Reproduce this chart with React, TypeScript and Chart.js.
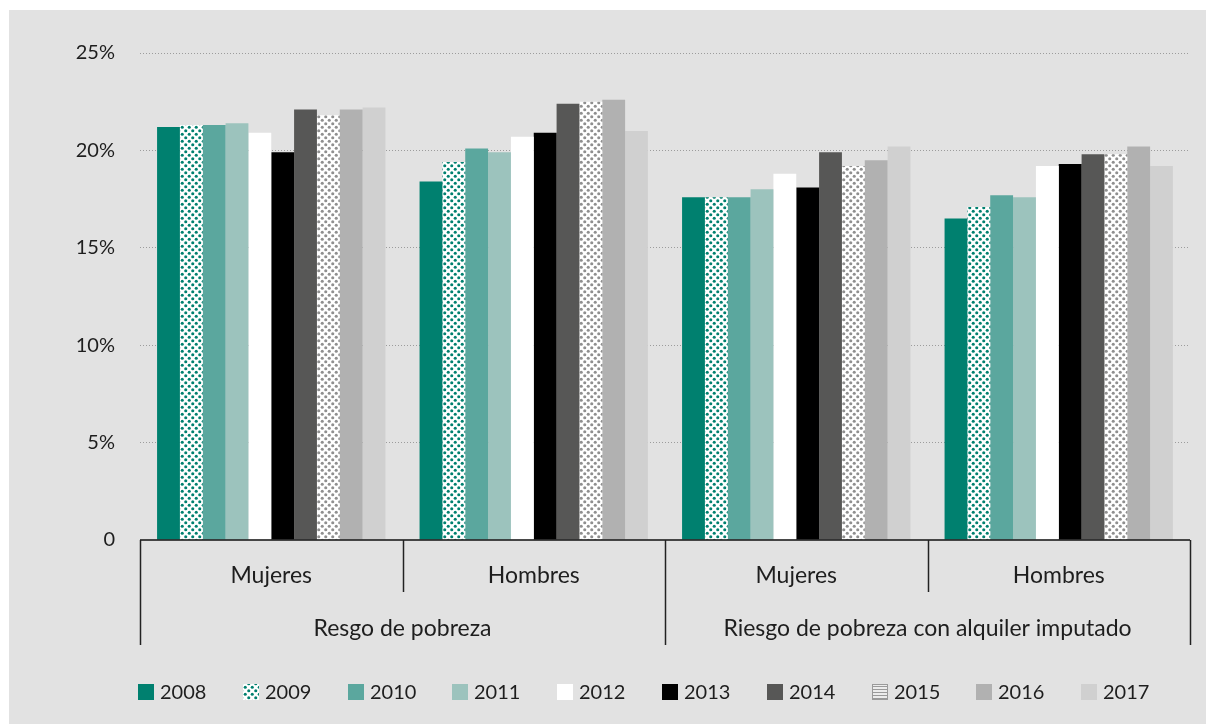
import React, { useEffect, useRef } from 'react';
import { Chart, registerables } from 'chart.js';

Chart.register(...registerables);

const categories = ['Mujeres', 'Hombres', 'Mujeres', 'Hombres'];
const groups = ['Resgo de pobreza', 'Riesgo de pobreza con alquiler imputado'];
const years = ['2008', '2009', '2010', '2011', '2012', '2013', '2014', '2015', '2016', '2017'];

const v2008 = [21.2, 18.4, 17.6, 16.5];
const v2009 = [21.3, 19.4, 17.6, 17.1];
const v2010 = [21.3, 20.1, 17.6, 17.7];
const v2011 = [21.4, 19.9, 18.0, 17.6];
const v2012 = [20.9, 20.7, 18.8, 19.2];
const v2013 = [19.9, 20.9, 18.1, 19.3];
const v2014 = [22.1, 22.4, 19.9, 19.8];
const v2015 = [21.8, 22.5, 19.2, 19.8];
const v2016 = [22.1, 22.6, 19.5, 20.2];
const v2017 = [22.2, 21.0, 20.2, 19.2];
const seriesValues = [v2008, v2009, v2010, v2011, v2012, v2013, v2014, v2015, v2016, v2017];

const yMin = 0;
const yMax = 25;
const yStep = 5;

const FONT = 'Lato, "Open Sans", sans-serif';
const TEXT = '#1e1e1e';

function makeDots(ctx: CanvasRenderingContext2D, color: string): CanvasPattern {
  const c = document.createElement('canvas');
  c.width = 7;
  c.height = 7;
  const g = c.getContext('2d')!;
  g.fillStyle = '#ffffff';
  g.fillRect(0, 0, 7, 7);
  g.fillStyle = color;
  const pts = [[1.75, 1.75], [5.25, 5.25]];
  pts.forEach(([x, y]) => {
    g.beginPath();
    g.arc(x, y, 1.55, 0, Math.PI * 2);
    g.fill();
  });
  return ctx.createPattern(c, 'repeat')!;
}

export default function App() {
  const ref = useRef<HTMLCanvasElement | null>(null);

  useEffect(() => {
    const canvas = ref.current!;
    const ctx0 = canvas.getContext('2d')!;
    const tealDots = makeDots(ctx0, '#00806f');
    const grayDots = makeDots(ctx0, '#8f8f8f');
    const colors: (string | CanvasPattern)[] = [
      '#00806f', tealDots, '#5ba79e', '#9cc3bd', '#ffffff',
      '#000000', '#575756', grayDots, '#b1b1b1', '#d0d0d0',
    ];

    const hierPlugin = {
      id: 'hierAxis',
      afterDraw(chart: any) {
        const { ctx, chartArea, scales } = chart;
        const xs = scales.x;
        const y0 = scales.y.getPixelForValue(0);
        const left = chartArea.left;
        const right = chartArea.right;
        const n = categories.length;
        const bounds: number[] = [];
        for (let i = 0; i <= n; i++) {
          if (i === 0) bounds.push(left);
          else if (i === n) bounds.push(right);
          else bounds.push((xs.getPixelForValue(i - 1) + xs.getPixelForValue(i)) / 2);
        }
        ctx.save();
        ctx.strokeStyle = '#111';
        ctx.lineWidth = 1.5;
        ctx.beginPath();
        ctx.moveTo(left, y0);
        ctx.lineTo(right, y0);
        ctx.stroke();
        ctx.strokeStyle = '#222';
        bounds.forEach((bx, i) => {
          const long = i % 2 === 0;
          ctx.beginPath();
          ctx.moveTo(Math.round(bx) + 0.5, y0);
          ctx.lineTo(Math.round(bx) + 0.5, y0 + (long ? 105 : 52));
          ctx.stroke();
        });
        ctx.fillStyle = TEXT;
        ctx.textAlign = 'center';
        ctx.textBaseline = 'middle';
        ctx.font = `23px ${FONT}`;
        categories.forEach((c, i) => {
          ctx.fillText(c, xs.getPixelForValue(i), y0 + 36);
        });
        groups.forEach((g, j) => {
          ctx.fillText(g, (bounds[2 * j] + bounds[2 * j + 2]) / 2, y0 + 89);
        });

        // legend
        const legY = 682;
        const startX = 129;
        const slot = 104.8;
        ctx.font = `20px ${FONT}`;
        ctx.textAlign = 'left';
        years.forEach((yr, k) => {
          const bx = Math.round(startX + k * slot);
          const by = legY - 8;
          if (k === 7) {
            ctx.fillStyle = '#ececec';
            ctx.fillRect(bx, by, 16, 16);
            ctx.strokeStyle = '#9a9a9a';
            ctx.lineWidth = 1;
            for (let s = 2; s < 16; s += 3) {
              ctx.beginPath();
              ctx.moveTo(bx, by + s + 0.5);
              ctx.lineTo(bx + 16, by + s + 0.5);
              ctx.stroke();
            }
            ctx.strokeRect(bx + 0.5, by + 0.5, 15, 15);
          } else {
            ctx.fillStyle = colors[k] as any;
            ctx.fillRect(bx, by, 16, 16);
          }
          ctx.fillStyle = TEXT;
          ctx.fillText(yr, bx + 22, legY + 1);
        });
        ctx.restore();
      },
    };

    const chart = new Chart(canvas, {
      type: 'bar',
      data: {
        labels: categories,
        datasets: years.map((yr, k) => ({
          label: yr,
          data: seriesValues[k],
          backgroundColor: colors[k] as any,
          borderWidth: 0,
          categoryPercentage: 0.87,
          barPercentage: 1,
        })),
      },
      options: {
        responsive: false,
        animation: false,
        layout: { padding: { left: 0, right: 16, top: 43, bottom: 184 } },
        plugins: {
          legend: { display: false },
          tooltip: { enabled: false },
        },
        scales: {
          x: { display: false, offset: true },
          y: {
            min: yMin,
            max: yMax,
            ticks: {
              stepSize: yStep,
              padding: 25,
              color: TEXT,
              font: { family: FONT, size: 20 },
              callback: (v: any) => (Number(v) === 0 ? '0' : `${v}%`),
            },
            grid: {
              drawTicks: false,
              lineWidth: 1,
              color: (c: any) => (c.tick && c.tick.value === 0 ? 'rgba(0,0,0,0)' : '#9c9c9c'),
            },
            border: { display: false, dash: [1, 2] },
            afterFit: (s: any) => {
              s.width = 131;
            },
          },
        },
      },
      plugins: [hierPlugin],
    });
    return () => chart.destroy();
  }, []);

  return (
    <div
      style={{
        position: 'absolute',
        left: 9,
        top: 10,
        width: 1197,
        height: 714,
        background: '#e2e2e2',
      }}
    >
      <canvas ref={ref} width={1197} height={714} style={{ display: 'block' }} />
    </div>
  );
}
